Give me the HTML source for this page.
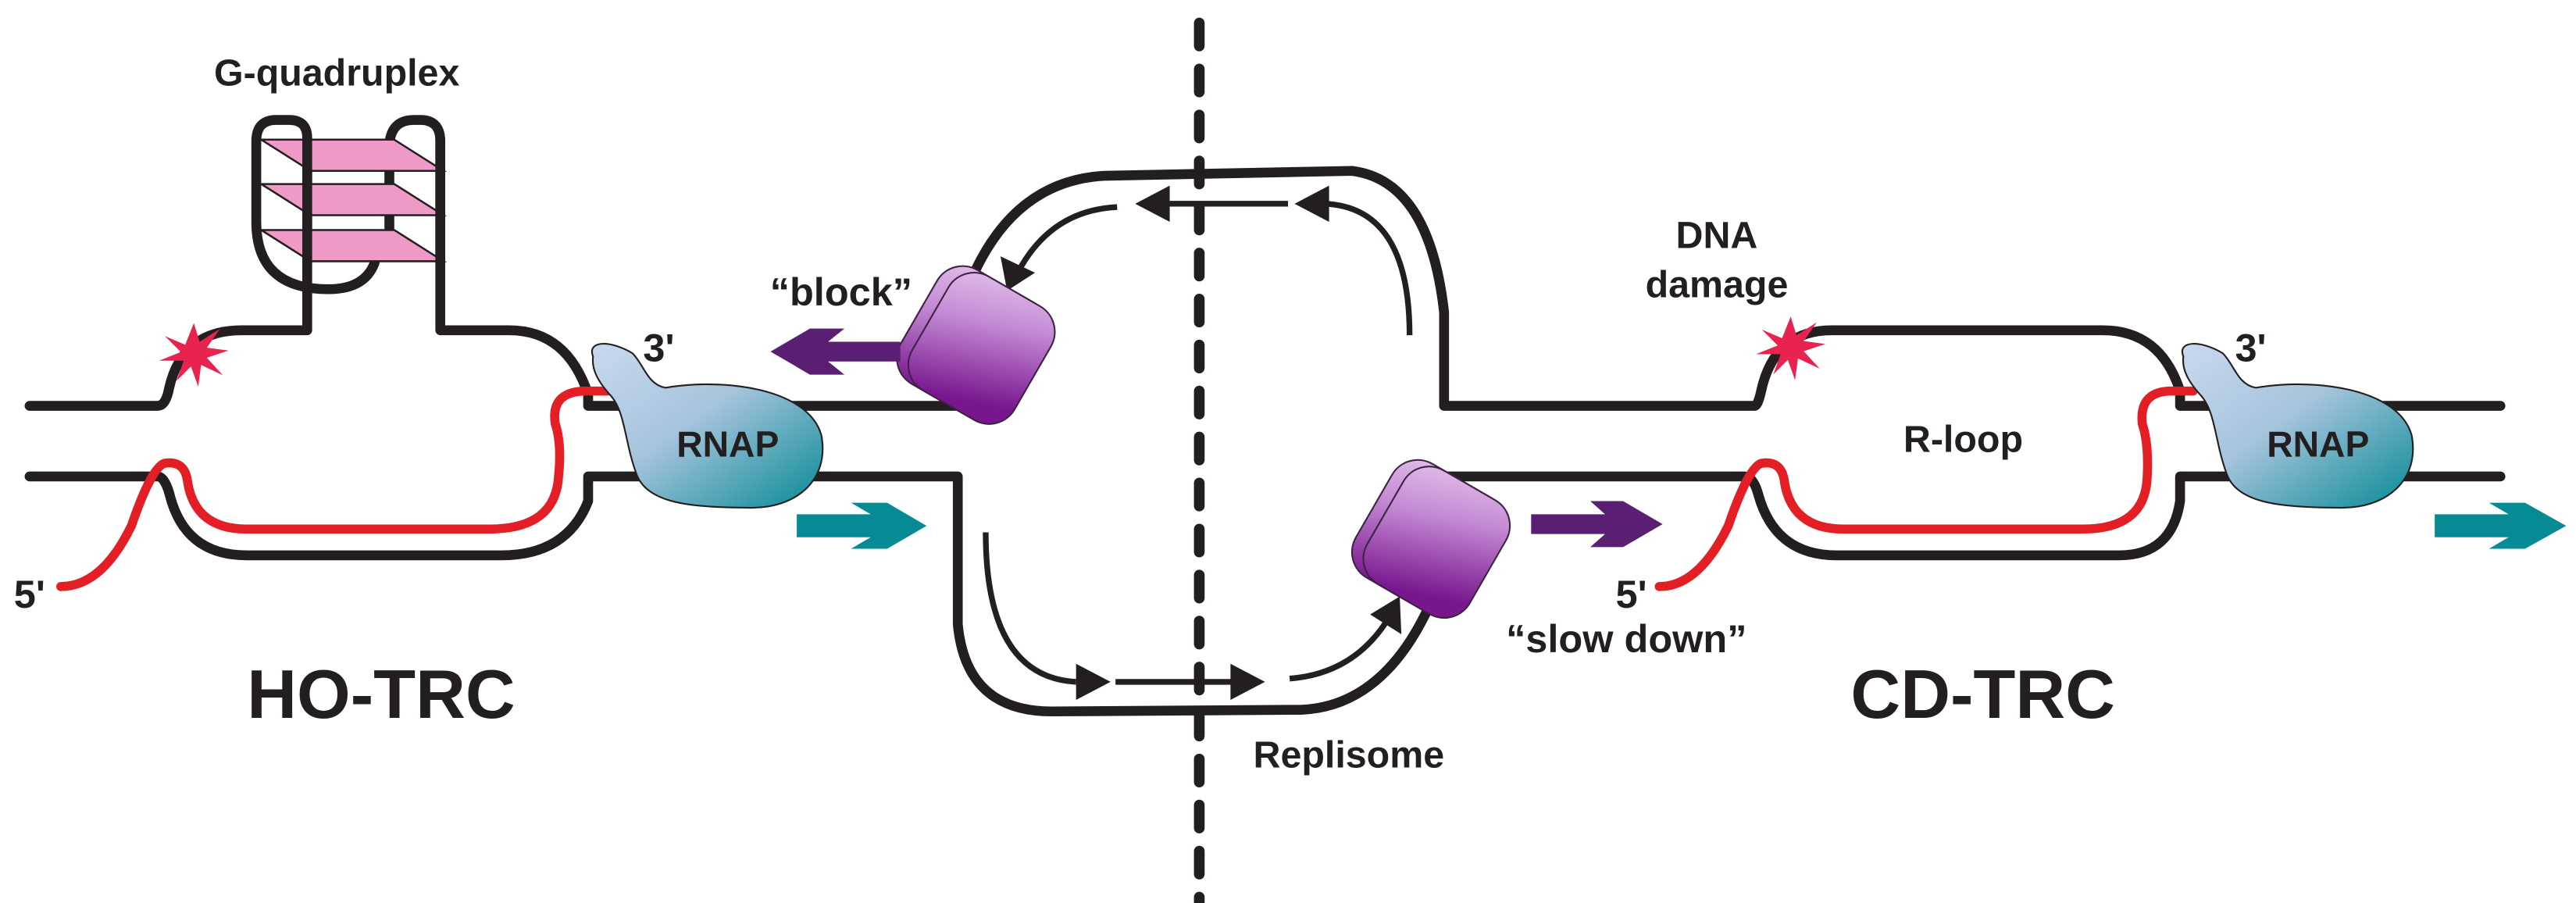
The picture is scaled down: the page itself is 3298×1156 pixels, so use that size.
<!DOCTYPE html>
<html><head><meta charset="utf-8"><style>
html,body{margin:0;padding:0;background:#fff;}
svg{display:block}
text{font-family:"Liberation Sans",Arial,sans-serif;font-weight:bold;fill:#231f20}
</style></head><body>
<svg width="3298" height="1156" viewBox="0 0 1568 549.6" preserveAspectRatio="none" xmlns="http://www.w3.org/2000/svg">
<defs>
<linearGradient id="rn" x1="0" y1="0" x2="1" y2="1">
<stop offset="0" stop-color="#c9d9ee"/><stop offset="0.45" stop-color="#a6c4dd"/><stop offset="1" stop-color="#068a94"/>
</linearGradient>
<linearGradient id="rp" x1="0" y1="0" x2="0.3" y2="1">
<stop offset="0" stop-color="#e2c0ea"/><stop offset="0.4" stop-color="#c48ad4"/><stop offset="1" stop-color="#78168e"/>
</linearGradient>
<symbol id="star" viewBox="-25 -25 50 50" overflow="visible">
<polygon fill="#e8234f" points="0,-22 4,-9 18,-18 9,-5 24,-3 9,2 20,14 5,7 3,22 -2,8 -12,18 -7,4 -24,4 -9,-2 -20,-13 -6,-7"/>
</symbol>
</defs>

<line x1="730" y1="14" x2="730" y2="550" stroke="#231f20" stroke-width="6.5" stroke-dasharray="14 14" stroke-linecap="round"/>

<g fill="none" stroke="#231f20" stroke-width="6" stroke-linejoin="round" stroke-linecap="round">
<path d="M18,247 H96 Q101,247 103,236 Q111,201 147,201 H187 V84 Q187,73 176,73 H168 Q156,73 156,86 V135 Q156,176 200,176 Q222,176 228,160"/>
<path d="M237,139 V104"/>
<path d="M237,88 Q238,73 252,73 H256 Q268,73 268,86 V201 H310 Q345,201 358,240 V247 H590"/>
<path d="M18,290 H96 Q100,290 103,300 Q112,338 150,338 H305 Q345,338 358,305 V290 H583 V380 Q588,433 640,433 L792,432 Q840,430 868,373"/>
<path d="M594,164 Q620,110 672,107 L823,104 Q870,110 879,190 V247 H1068 Q1070,247 1072,238 Q1080,201 1115,201 H1280 Q1315,201 1327,238 V247 H1522"/>
<path d="M880,290 H1062 Q1067,290 1070,300 Q1080,338 1118,338 H1290 Q1322,338 1327,305 V290 H1522"/>
</g>

<g fill="#ef9ac6" stroke="#231f20" stroke-width="1.2">
<polygon points="159,85 240,85 270,104 189,104"/>
<polygon points="159,112 240,112 270,131 189,131"/>
<polygon points="159,140 240,140 270,159 189,159"/>
</g>
<line x1="187" y1="84" x2="187" y2="160" stroke="#231f20" stroke-width="6"/>
<line x1="268" y1="84" x2="268" y2="160" stroke="#231f20" stroke-width="6"/>

<g fill="none" stroke="#e41e25" stroke-width="5.5" stroke-linecap="round" stroke-linejoin="round">
<path d="M37,357 Q62,357 80,320 Q92,285 100,282 Q112,280 114,292 Q118,322 150,322 H298 Q338,322 340,290 Q342,270 338,258 Q335,239 355,238 H370"/>
<path d="M1010,357 Q1034,357 1052,320 Q1064,285 1072,282 Q1084,280 1086,292 Q1090,322 1122,322 H1268 Q1306,322 1307,290 Q1308,270 1304,258 Q1302,239 1320,238 H1335"/>
</g>

<use href="#star" x="96" y="194" width="44" height="44"/>
<use href="#star" x="1068" y="190" width="44" height="44"/>

<path id="rnap" d="M361,217 C357,207 372,207 385,215 C392,222 394,234 405,236 C440,230 492,236 500,265 C505,292 485,310 455,309 C420,309 395,306 388,290 C380,270 381,250 371,240 C364,232 360,225 361,217Z" fill="url(#rn)" stroke="#231f20" stroke-width="1"/>
<use href="#rnap" x="968" y="0"/>

<g fill="none" stroke="#231f20" stroke-width="3.5">
<path d="M680,126 Q640,128 620,165"/>
<path d="M784,124 H705"/>
<path d="M858,204 Q858,126 806,124"/>
<path d="M600,324 Q600,412 655,415"/>
<path d="M679,415 H752"/>
<path d="M785,413 Q825,410 846,375"/>
</g>
<g fill="#231f20">
<polygon points="613,177 609,156 630,166"/>
<polygon points="691,124 712,113 712,135"/>
<polygon points="788,124 809,113 809,135"/>
<polygon points="676,415 655,404 655,426"/>
<polygon points="770,415 749,404 749,426"/>
<polygon points="852,363 853,386 834,374"/>
</g>

<g id="rep">
<g transform="translate(594,210) rotate(30)">
<rect x="-40" y="-40" width="76" height="80" rx="18" fill="url(#rp)" stroke="#3d2244" stroke-width="1"/>
<rect x="-32" y="-40" width="72" height="80" rx="18" fill="url(#rp)" stroke="#3d2244" stroke-width="1"/>
</g>
</g>
<use href="#rep" x="277" y="118"/>

<polygon points="485,313 530,313 518,306 540,306 564,320 540,334 518,334 530,327 485,327" fill="#068a94"/>
<polygon points="1482,313 1527,313 1515,306 1537,306 1562,320 1537,334 1515,334 1527,327 1482,327" fill="#068a94"/>
<polygon points="548,208 504,208 514,200 493,200 469,214 493,228 514,228 504,220 548,220" fill="#5a1f72"/>
<polygon points="932,313 977,313 968,305 988,305 1012,319 988,333 968,333 977,325 932,325" fill="#5a1f72"/>

<text x="205" y="52" font-size="23" text-anchor="middle">G-quadruplex</text>
<text x="512" y="186" font-size="24" text-anchor="middle">“block”</text>
<text x="401" y="220" font-size="24" text-anchor="middle">3'</text>
<text x="1370" y="220" font-size="24" text-anchor="middle">3'</text>
<text x="443" y="278" font-size="22" text-anchor="middle">RNAP</text>
<text x="1411" y="278" font-size="22" text-anchor="middle">RNAP</text>
<text x="18" y="370" font-size="24" text-anchor="middle">5'</text>
<text x="993" y="370" font-size="24" text-anchor="middle">5'</text>
<text x="1045" y="151" font-size="23" text-anchor="middle">DNA</text>
<text x="1045" y="181" font-size="23" text-anchor="middle">damage</text>
<text x="1195" y="275" font-size="23" text-anchor="middle">R-loop</text>
<text x="990" y="397" font-size="24" text-anchor="middle">“slow down”</text>
<text x="821" y="467" font-size="23" text-anchor="middle">Replisome</text>
<text x="232" y="437" font-size="42" text-anchor="middle">HO-TRC</text>
<text x="1207" y="437" font-size="42" text-anchor="middle">CD-TRC</text>
</svg>
</body></html>
